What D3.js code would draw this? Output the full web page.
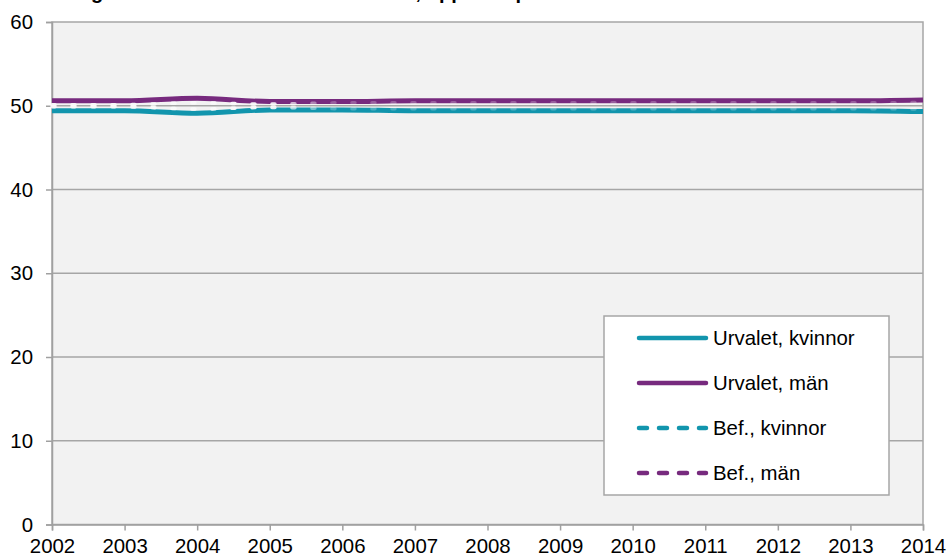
<!DOCTYPE html>
<html>
<head>
<meta charset="utf-8">
<script src="https://cdn.jsdelivr.net/npm/d3@7"></script>
<style>
  html, body { margin: 0; padding: 0; background: #fff; }
  svg text { font-family: "Liberation Sans", Arial, sans-serif; fill: #000; }
</style>
</head>
<body>
<div id="container"></div>
<script>
// data
const years = [2002, 2003, 2004, 2005, 2006, 2007, 2008, 2009, 2010, 2011, 2012, 2013, 2014];
const urvaletKvinnor = [49.4, 49.4, 49.1, 49.5, 49.5, 49.4, 49.4, 49.4, 49.4, 49.4, 49.4, 49.4, 49.3];
const urvaletMan = [50.6, 50.6, 50.9, 50.5, 50.5, 50.6, 50.6, 50.6, 50.6, 50.6, 50.6, 50.6, 50.7];
const befKvinnor = [49.87, 49.87, 49.6, 49.8, 49.65, 49.65, 49.65, 49.65, 49.65, 49.65, 49.65, 49.65, 49.6];
const befMan = [50.13, 50.13, 50.35, 50.2, 50.35, 50.35, 50.35, 50.35, 50.35, 50.35, 50.35, 50.35, 50.4];
const yTicks = [0, 10, 20, 30, 40, 50, 60];
const seriesNames = ["Urvalet, kvinnor", "Urvalet, män", "Bef., kvinnor", "Bef., män"];
const title = "Fördelning kvinnor och män i urval och bef., uppdelat per år";

const teal = "#1295ad";
const purple = "#772a7e";

const width = 949, height = 558;
const margin = { top: 22, right: 26, bottom: 33.5, left: 52 };
const fontSize = "20.4px";

const series = [
  { name: seriesNames[0], values: urvaletKvinnor, color: teal, dashed: false },
  { name: seriesNames[1], values: urvaletMan, color: purple, dashed: false },
  { name: seriesNames[2], values: befKvinnor, color: teal, dashed: true },
  { name: seriesNames[3], values: befMan, color: purple, dashed: true }
];

const svg = d3.select("#container")
  .append("svg")
  .attr("width", width)
  .attr("height", height);

// title, cut at the top edge as in the original
svg.append("text")
  .attr("x", 0)
  .attr("y", -1.5)
  .style("font-size", "20px")
  .style("font-weight", "bold")
  .text(title);

const x = d3.scaleLinear().domain([2002, 2014]).range([margin.left, width - margin.right]);
const y = d3.scaleLinear().domain([0, 60]).range([height - margin.bottom, margin.top]);

// plot area
svg.append("rect")
  .attr("x", x(2002)).attr("y", y(60))
  .attr("width", x(2014) - x(2002)).attr("height", y(0) - y(60))
  .attr("fill", "#f2f2f2")
  .attr("stroke", "#a6a6a6")
  .attr("stroke-width", 1.5);

// gridlines
svg.append("g")
  .selectAll("line")
  .data(yTicks.filter(d => d > 0 && d < 60))
  .join("line")
  .attr("x1", x(2002)).attr("x2", x(2014))
  .attr("y1", d => y(d)).attr("y2", d => y(d))
  .attr("stroke", "#a6a6a6")
  .attr("stroke-width", 1.5);

// axes
const yAxis = svg.append("g")
  .attr("transform", `translate(${x(2002)},0)`)
  .call(d3.axisLeft(y).tickValues(yTicks).tickSize(6).tickPadding(13).tickFormat(d3.format("d")));
const xAxis = svg.append("g")
  .attr("transform", `translate(0,${y(0)})`)
  .call(d3.axisBottom(x).tickValues(years).tickSize(6).tickPadding(8).tickFormat(d3.format("d")));

[yAxis, xAxis].forEach(a => {
  a.select(".domain").attr("stroke", "#a0a0a0").attr("stroke-width", 1.5);
  a.selectAll(".tick line").attr("stroke", "#a0a0a0").attr("stroke-width", 1.5);
  a.selectAll("text").style("font-size", fontSize).attr("fill", "#000")
    .style("font-family", "'Liberation Sans', Arial, sans-serif");
});
xAxis.selectAll("text").attr("dy", "0.72em");

// the population lines show up pale in the plot, fading after 2005
const defs = svg.append("defs");
const grad = defs.append("linearGradient")
  .attr("id", "befFade")
  .attr("gradientUnits", "userSpaceOnUse")
  .attr("x1", x(2002)).attr("x2", x(2014))
  .attr("y1", 0).attr("y2", 0);
grad.append("stop").attr("offset", (x(2005) - x(2002)) / (x(2014) - x(2002)))
  .attr("stop-color", "#fafafa").attr("stop-opacity", 0.95);
grad.append("stop").attr("offset", (x(2005.8) - x(2002)) / (x(2014) - x(2002)))
  .attr("stop-color", "#fafafa").attr("stop-opacity", 0.25);
grad.append("stop").attr("offset", 1)
  .attr("stop-color", "#fafafa").attr("stop-opacity", 0.25);

const line = d3.line()
  .x((d, i) => x(years[i]))
  .y(d => y(d))
  .curve(d3.curveMonotoneX);

const plot = svg.append("g");
series.filter(s => !s.dashed).forEach(s => {
  plot.append("path")
    .attr("d", line(s.values))
    .attr("fill", "none")
    .attr("stroke", s.color)
    .attr("stroke-width", 5)
    .attr("stroke-linejoin", "round");
});
series.filter(s => s.dashed).forEach(s => {
  plot.append("path")
    .attr("d", line(s.values))
    .attr("fill", "none")
    .attr("stroke", "url(#befFade)")
    .attr("stroke-width", 3.5)
    .attr("stroke-dasharray", "3,17")
    .attr("stroke-linecap", "round");
});

// legend
const legend = svg.append("g").attr("transform", "translate(604,316)");
legend.append("rect")
  .attr("width", 285).attr("height", 179)
  .attr("fill", "#fff")
  .attr("stroke", "#a6a6a6")
  .attr("stroke-width", 1.5);

const item = legend.selectAll("g.item")
  .data(series)
  .join("g")
  .attr("class", "item")
  .attr("transform", (d, i) => `translate(0,${22 + i * 45})`);
item.append("line")
  .attr("x1", 35).attr("x2", 102)
  .attr("stroke", d => d.color)
  .attr("stroke-width", 4.5)
  .attr("stroke-linecap", "round")
  .attr("stroke-dasharray", d => d.dashed ? "8,12" : null);
item.append("text")
  .attr("x", 109)
  .attr("dy", "0.35em")
  .style("font-size", fontSize)
  .text(d => d.name);
</script>
</body>
</html>
